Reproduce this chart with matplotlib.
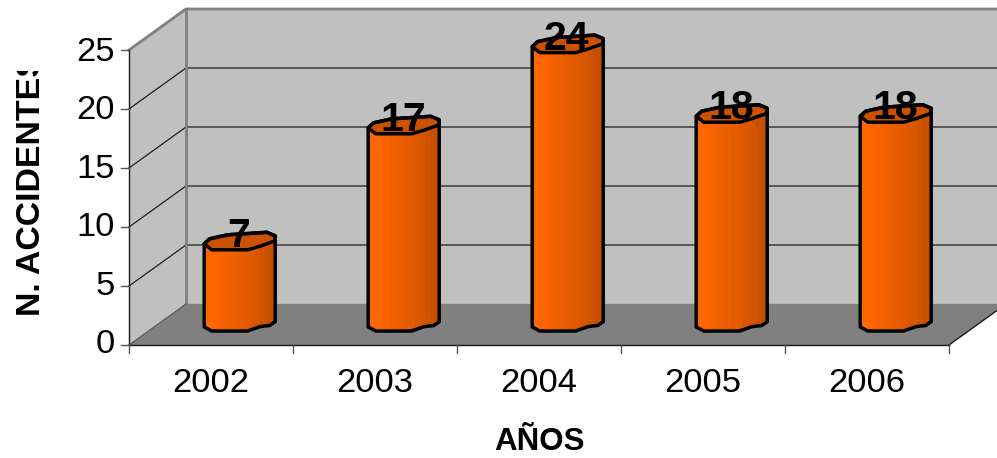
import numpy as np
import matplotlib
matplotlib.use("Agg")
import matplotlib.pyplot as plt
from matplotlib.patches import Polygon
from matplotlib.transforms import Bbox, TransformedBbox

plt.rcParams['font.family'] = ['Liberation Sans', 'DejaVu Sans']

years = ["2002", "2003", "2004", "2005", "2006"]
accidents = [7, 17, 24, 18, 18]
y_ticks = [0, 5, 10, 15, 20, 25]
x_title = "AÑOS"
y_title = "N. ACCIDENTES"

W, H = 997, 458
PX_X = 164.0   # pixels per category
PX_Y = 11.8    # pixels per accident
LEFT = 129
BOTTOM = 345
DEPTH_X = 57 / PX_X
DEPTH_Y = 41 / PX_Y
BAR_SCALE = 0.983
BASE_Y = 14 / PX_Y
BAR_SHIFT = 0.675

# outline of a bar in pixels, relative to its centre and its front edge
TOP_SHAPE = [(-35.5, 6), (-30, 11), (-12, 15), (27, 17.5), (35.5, 14), (35.5, 9), (20, 3.5), (8, 0), (-28, 0)]
BASE_SHAPE = [(35.5, 9.3), (30, 5.5), (20, 4.3), (8, 0), (-28, 0), (-35.5, 4)]
STRIPES = ["#ff6600", "#ff6600", "#fb6400", "#f76300", "#f26100", "#ee5f00",
           "#ea5e00", "#e55c00", "#e15a00", "#dc5800", "#d85600", "#d05300", "#c85000", "#c45000"]


def main():
    fig = plt.figure(figsize=(W / 100, H / 100), dpi=100)
    ax = fig.add_axes([0, 0, 1, 1])
    ax.axis("off")
    xlim = (-LEFT / PX_X, (W - LEFT) / PX_X)
    ylim = (-(H - BOTTOM) / PX_Y, BOTTOM / PX_Y)

    draw_box(ax)
    for i, value in enumerate(accidents):
        draw_bar(ax, i + BAR_SHIFT, value)

    ax.set_xlim(xlim)
    ax.set_ylim(ylim)
    ax.set_aspect("auto")

    for tick in y_ticks:
        ax.text(-14 / PX_X, tick + 0.5 / PX_Y - tick * 0.01, str(tick), ha="right", va="center", fontsize=24.8, color="black")
    for i, year in enumerate(years):
        ax.text(i + 0.5, -39 / PX_Y, year, ha="center", va="center", fontsize=24.8, color="black")

    ax.text(2.50, -97.5 / PX_Y, x_title, ha="center", va="center", fontsize=22.5, fontweight="bold")
    label = ax.text(-97 / PX_X, 29 / PX_Y, y_title, rotation=90, ha="left", va="center", fontsize=24.4,
                    fontweight="bold", rotation_mode="anchor")
    # the original label runs out of its box at the top
    clip = TransformedBbox(Bbox([[xlim[0], ylim[0]], [xlim[1], (BOTTOM - 71) / PX_Y]]), ax.transData)
    label.set_clip_box(clip)
    label.set_clip_on(True)

    for i, value in enumerate(accidents):
        top = BASE_Y + value * BAR_SCALE
        ax.text(i + BAR_SHIFT - 1 / PX_X, top + 14 / PX_Y, str(value), ha="center", va="center",
                fontsize=29.5, fontweight="bold", color="black", zorder=10)

    fig.savefig("out.png", dpi=100)


def draw_box(ax):
    top = y_ticks[-1]
    n = len(years)
    far = n + 2 * DEPTH_X   # runs past the edge of the picture
    ax.add_patch(Polygon([(DEPTH_X, DEPTH_Y), (far, DEPTH_Y), (far, top + DEPTH_Y), (DEPTH_X, top + DEPTH_Y)],
                         fc="#c0c0c0", ec="none", zorder=1))
    ax.add_patch(Polygon([(0, 0), (DEPTH_X, DEPTH_Y), (DEPTH_X, top + DEPTH_Y), (0, top)],
                         fc="#c0c0c0", ec="none", zorder=1))
    ax.add_patch(Polygon([(0, 0), (n, 0), (n + 2 * DEPTH_X, 2 * DEPTH_Y), (DEPTH_X + n + 1, DEPTH_Y), (DEPTH_X, DEPTH_Y)],
                         fc="#808080", ec="none", zorder=1))
    # white corner right of the floor
    ax.add_patch(Polygon([(n, 0), (n + 2 * DEPTH_X, 2 * DEPTH_Y), (n + 2 * DEPTH_X, 0)], fc="white", ec="none", zorder=2))

    for tick in y_ticks[1:-1]:
        ax.plot([0, DEPTH_X, far], [tick, tick + DEPTH_Y, tick + DEPTH_Y], color="#1f1f1f", lw=0.9, zorder=2)
    ax.plot([DEPTH_X, far], [DEPTH_Y, DEPTH_Y], color="#808080", lw=0.9, zorder=2)

    ax.plot([0, DEPTH_X, far], [top, top + DEPTH_Y, top + DEPTH_Y], color="#808080", lw=2, zorder=3)
    ax.plot([DEPTH_X, DEPTH_X], [DEPTH_Y, top + DEPTH_Y], color="#808080", lw=2, zorder=3)

    ax.plot([0, 0], [0, top], color="#1a1a1a", lw=1.0, zorder=4)
    ax.plot([0, n], [0, 0], color="#1a1a1a", lw=1.0, zorder=4)
    ax.plot([0, DEPTH_X], [0, DEPTH_Y], color="#555555", lw=0.8, zorder=3)
    ax.plot([n, n + 2 * DEPTH_X], [0, 2 * DEPTH_Y], color="#1a1a1a", lw=1.0, zorder=4)

    for tick in y_ticks:
        ax.plot([-8 / PX_X, 0], [tick, tick], color="#555555", lw=1.0, zorder=4)
    for i in range(n + 1):
        ax.plot([i, i], [0, -8 / PX_Y], color="#555555", lw=1.0, zorder=4)


def draw_bar(ax, centre, value):
    top = BASE_Y + value * BAR_SCALE
    top_pts = [(centre + x / PX_X, top + y / PX_Y) for x, y in TOP_SHAPE]
    base_pts = [(centre + x / PX_X, BASE_Y + y / PX_Y) for x, y in BASE_SHAPE]
    outline = top_pts[:6] + base_pts

    shape = Polygon(outline, closed=True, fc="none", ec="none", zorder=5)
    ax.add_patch(shape)
    rgb = np.array([matplotlib.colors.to_rgb(c) for c in STRIPES])[None, :, :]
    img = ax.imshow(rgb, extent=(centre - 35.5 / PX_X, centre + 35.5 / PX_X, 0, top + 20 / PX_Y),
                    aspect="auto", interpolation="nearest", zorder=5)
    img.set_clip_path(shape)

    ax.add_patch(Polygon(top_pts, closed=True, fc="#cc5200", ec="black", lw=2.5, joinstyle="round", zorder=6))
    ax.add_patch(Polygon(outline, closed=True, fc="none", ec="black", lw=2.5, joinstyle="round", zorder=6))


if __name__ == "__main__":
    main()
